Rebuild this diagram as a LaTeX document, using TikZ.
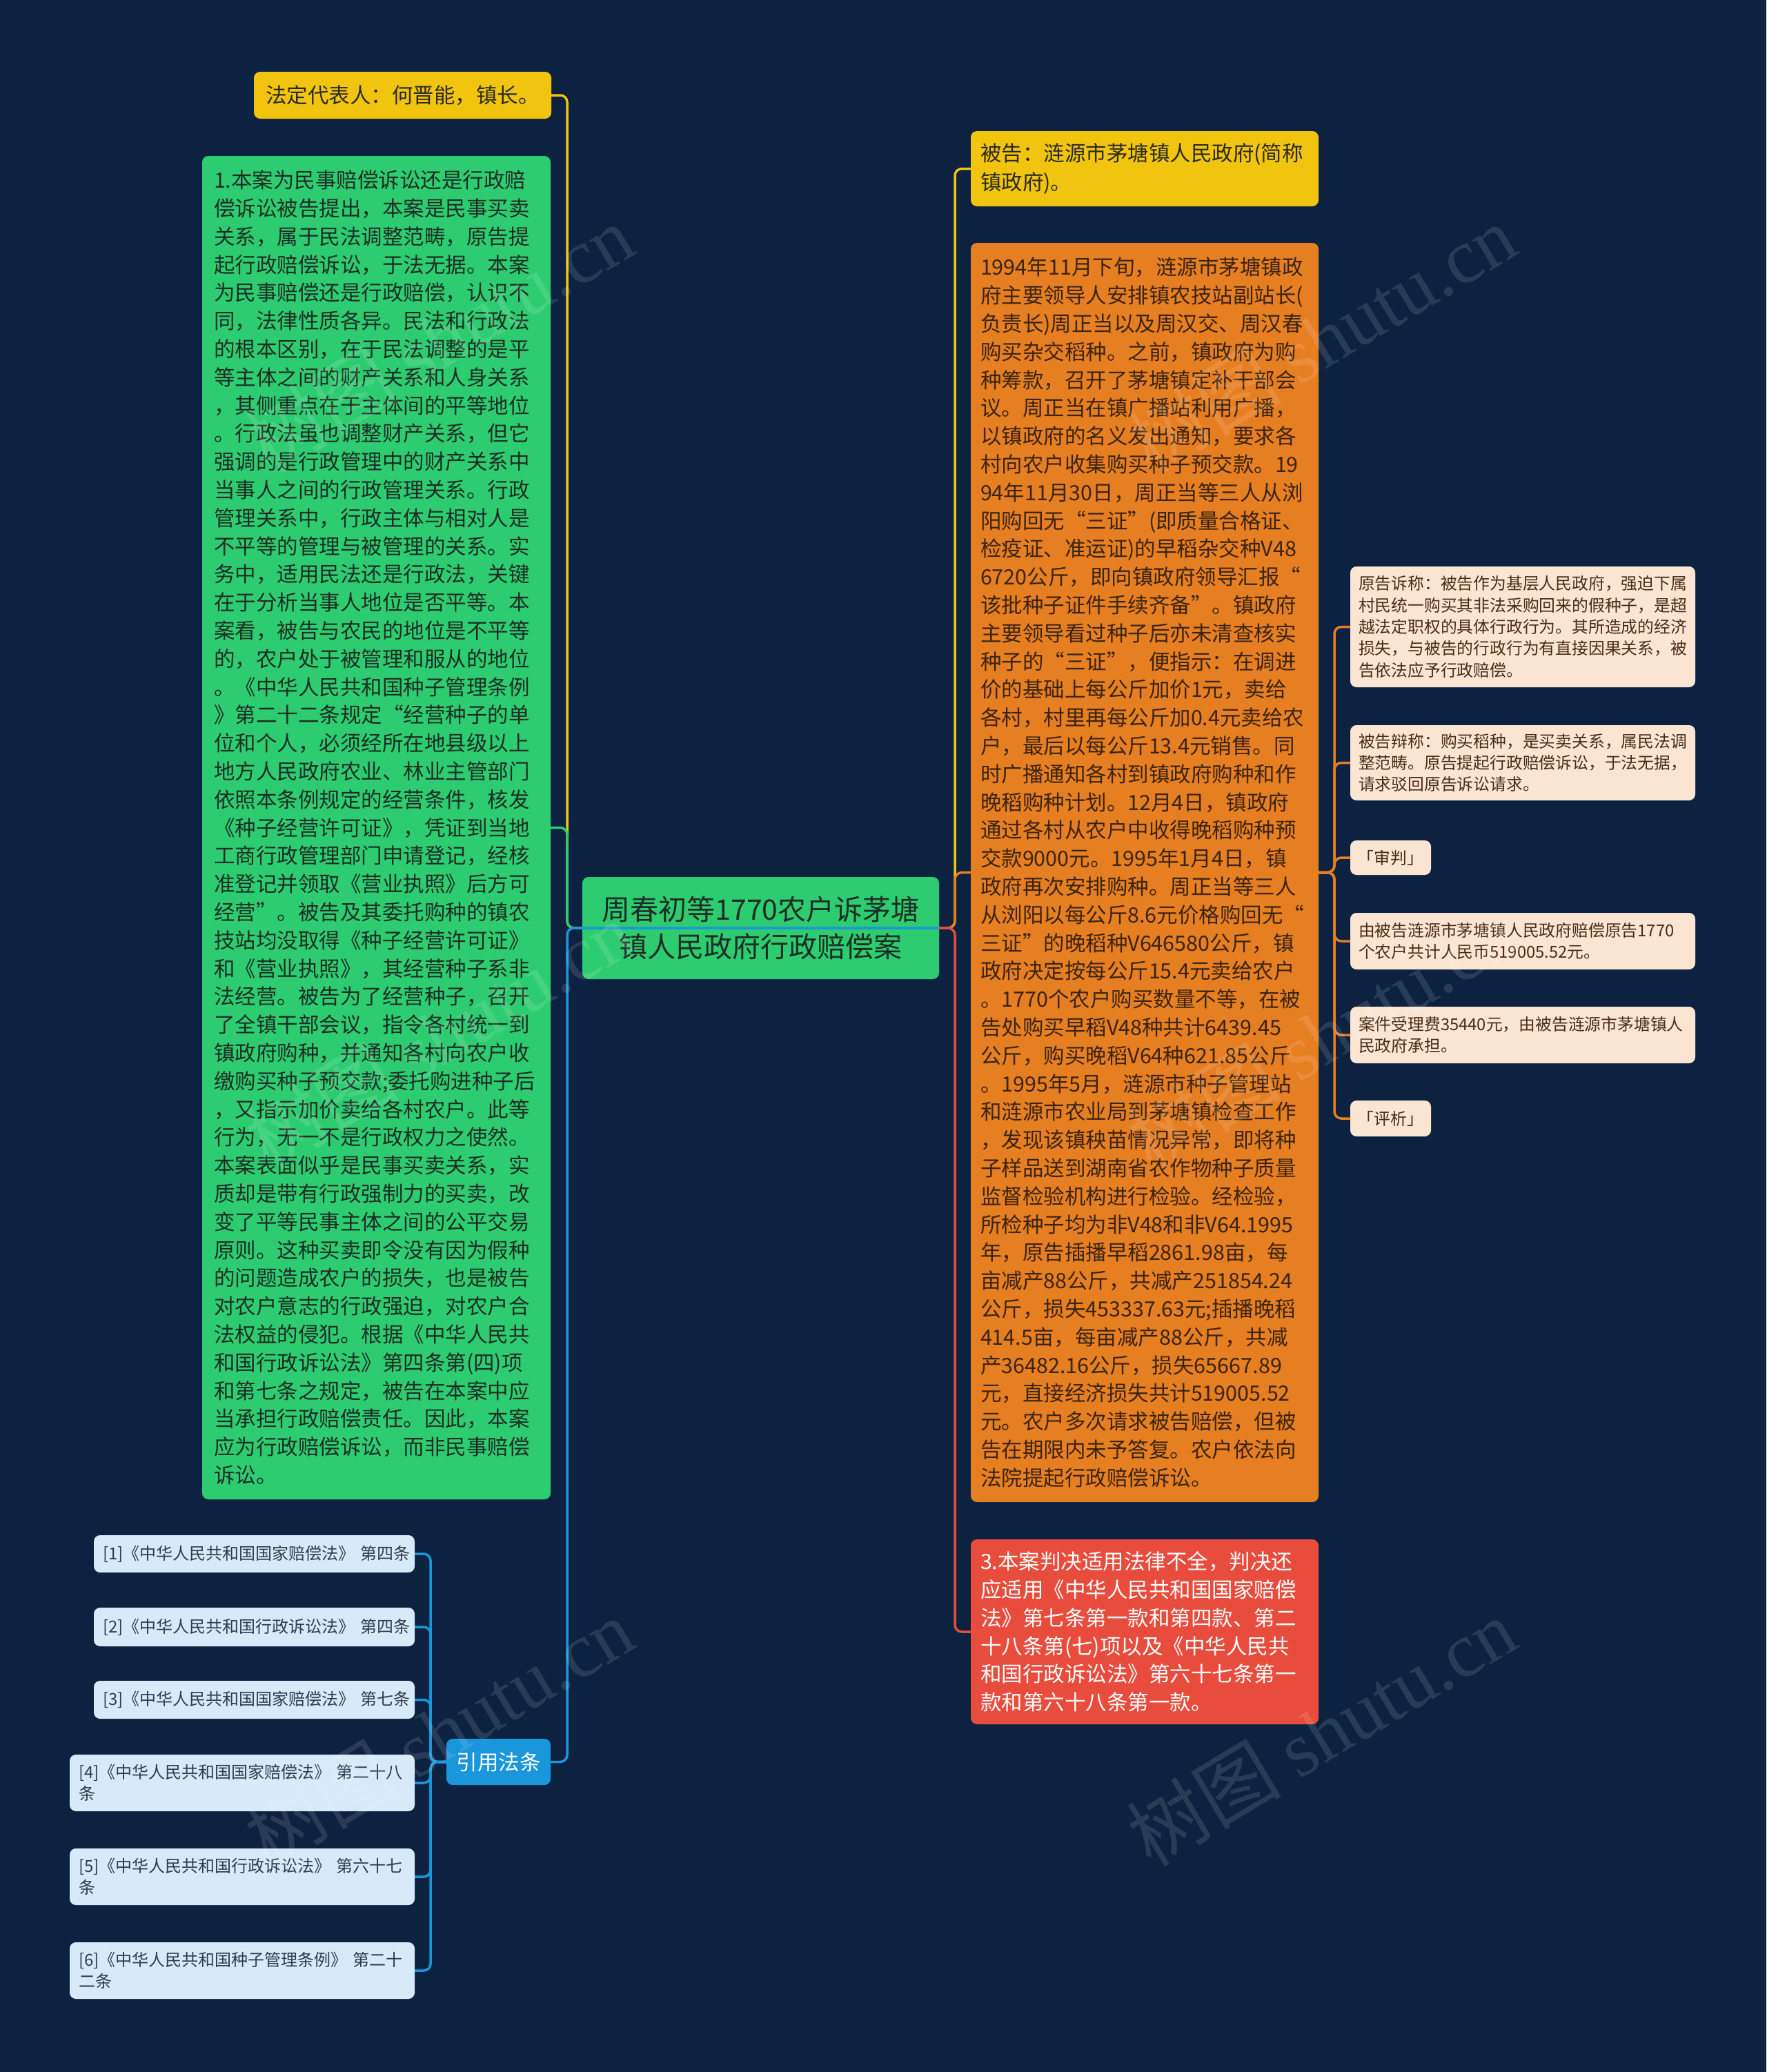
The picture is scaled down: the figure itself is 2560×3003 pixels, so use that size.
\documentclass[tikz,border=0pt]{standalone}
\usepackage{fontspec}
\setmainfont{Noto Sans CJK SC}
\newfontfamily\wmlatin{Liberation Serif}
\definecolor{bg}{HTML}{0C2240}
\definecolor{cyellow}{HTML}{F1C40F}
\definecolor{cgreen}{HTML}{2ECC71}
\definecolor{corange}{HTML}{E67E22}
\definecolor{cred}{HTML}{E74C3C}
\definecolor{ccream}{HTML}{FAE5D3}
\definecolor{clblue}{HTML}{D6EAF8}
\definecolor{cblue}{HTML}{1A96DA}
\definecolor{tdark}{HTML}{2A2A1E}
\definecolor{tgreen}{HTML}{1E2D24}
\definecolor{torange}{HTML}{3A2412}
\definecolor{tcream}{HTML}{4A2C14}
\definecolor{tblue}{HTML}{2C3E50}
\tikzset{
  nb/.style={rectangle, rounded corners=9pt, anchor=north west, align=left, inner ysep=0pt, outer sep=0pt},
  bigtxt/.style={font=\fontsize{30.5}{40.8}\selectfont},
  smalltxt/.style={font=\fontsize{23.8}{31.4}\selectfont},
  citetxt/.style={font=\fontsize{24}{31}\selectfont},
  conn/.style={line width=3.5pt, rounded corners=10pt},
  wm/.style={rotate=31, opacity=0.12, text=white, font=\fontsize{112}{112}\selectfont, inner sep=0pt}
}
\begin{document}
\begin{tikzpicture}[x=1pt,y=-1pt]
\fill[bg] (0,0) rectangle (2560,3003);
\useasboundingbox (0,0) rectangle (2560,3003);

% trunk coordinates
\coordinate (tl) at (822,0);
\coordinate (tr) at (1384,0);
\coordinate (tc) at (1934,0);
\coordinate (tq) at (624,0);

% central node
\node[nb, align=center, fill=cgreen, text=tgreen, font=\fontsize{41}{54}\selectfont,
      inner xsep=20pt, text width=477pt, minimum height=148pt] (center) at (844,1271)
  {周春初等1770农户诉茅塘\\镇人民政府行政赔偿案};

% left side
\node[nb, bigtxt, fill=cyellow, text=tdark, inner xsep=17pt, text width=397pt, minimum height=68pt] (legal) at (368,104)
  {法定代表人：何晋能，镇长。};

\node[nb, bigtxt, fill=cgreen, text=tgreen, inner xsep=17pt, text width=471pt, minimum height=1947pt] (analysis) at (293,226)
  {1.本案为民事赔偿诉讼还是行政赔\\
偿诉讼被告提出，本案是民事买卖\\
关系，属于民法调整范畴，原告提\\
起行政赔偿诉讼，于法无据。本案\\
为民事赔偿还是行政赔偿，认识不\\
同，法律性质各异。民法和行政法\\
的根本区别，在于民法调整的是平\\
等主体之间的财产关系和人身关系\\
，其侧重点在于主体间的平等地位\\
。行政法虽也调整财产关系，但它\\
强调的是行政管理中的财产关系中\\
当事人之间的行政管理关系。行政\\
管理关系中，行政主体与相对人是\\
不平等的管理与被管理的关系。实\\
务中，适用民法还是行政法，关键\\
在于分析当事人地位是否平等。本\\
案看，被告与农民的地位是不平等\\
的，农户处于被管理和服从的地位\\
。《中华人民共和国种子管理条例\\
》第二十二条规定“经营种子的单\\
位和个人，必须经所在地县级以上\\
地方人民政府农业、林业主管部门\\
依照本条例规定的经营条件，核发\\
《种子经营许可证》，凭证到当地\\
工商行政管理部门申请登记，经核\\
准登记并领取《营业执照》后方可\\
经营”。被告及其委托购种的镇农\\
技站均没取得《种子经营许可证》\\
和《营业执照》，其经营种子系非\\
法经营。被告为了经营种子，召开\\
了全镇干部会议，指令各村统一到\\
镇政府购种，并通知各村向农户收\\
缴购买种子预交款;委托购进种子后\\
，又指示加价卖给各村农户。此等\\
行为，无一不是行政权力之使然。\\
本案表面似乎是民事买卖关系，实\\
质却是带有行政强制力的买卖，改\\
变了平等民事主体之间的公平交易\\
原则。这种买卖即令没有因为假种\\
的问题造成农户的损失，也是被告\\
对农户意志的行政强迫，对农户合\\
法权益的侵犯。根据《中华人民共\\
和国行政诉讼法》第四条第(四)项\\
和第七条之规定，被告在本案中应\\
当承担行政赔偿责任。因此，本案\\
应为行政赔偿诉讼，而非民事赔偿\\
诉讼。};

\node[nb, align=center, fill=cblue, text=white, bigtxt, inner xsep=10pt, text width=131pt, minimum height=67pt] (cite) at (647,2520)
  {引用法条};

\node[nb, citetxt, fill=clblue, text=tblue, inner xsep=13pt, text width=439pt, minimum height=54pt] (c1) at (136,2225)
  {[1]《中华人民共和国国家赔偿法》~第四条};
\node[nb, citetxt, fill=clblue, text=tblue, inner xsep=13pt, text width=439pt, minimum height=56pt] (c2) at (136,2330)
  {[2]《中华人民共和国行政诉讼法》~第四条};
\node[nb, citetxt, fill=clblue, text=tblue, inner xsep=13pt, text width=439pt, minimum height=55pt] (c3) at (136,2436)
  {[3]《中华人民共和国国家赔偿法》~第七条};
\node[nb, citetxt, fill=clblue, text=tblue, inner xsep=13pt, text width=474pt, minimum height=82pt] (c4) at (101,2543)
  {[4]《中华人民共和国国家赔偿法》~第二十八\\条};
\node[nb, citetxt, fill=clblue, text=tblue, inner xsep=13pt, text width=474pt, minimum height=82pt] (c5) at (101,2679)
  {[5]《中华人民共和国行政诉讼法》~第六十七\\条};
\node[nb, citetxt, fill=clblue, text=tblue, inner xsep=13pt, text width=474pt, minimum height=82pt] (c6) at (101,2815)
  {[6]《中华人民共和国种子管理条例》~第二十\\二条};

% right side
\node[nb, bigtxt, fill=cyellow, text=tdark, font=\fontsize{30.5}{42}\selectfont, inner xsep=14pt, text width=476pt, minimum height=109pt] (def) at (1407,190)
  {被告：涟源市茅塘镇人民政府(简称\\镇政府)。};

\node[nb, bigtxt, fill=corange, text=torange, inner xsep=14pt, text width=476pt, minimum height=1825pt] (facts) at (1407,352)
  {1994年11月下旬，涟源市茅塘镇政\\
府主要领导人安排镇农技站副站长(\\
负责长)周正当以及周汉交、周汉春\\
购买杂交稻种。之前，镇政府为购\\
种筹款，召开了茅塘镇定补干部会\\
议。周正当在镇广播站利用广播，\\
以镇政府的名义发出通知，要求各\\
村向农户收集购买种子预交款。19\\
94年11月30日，周正当等三人从浏\\
阳购回无“三证”(即质量合格证、\\
检疫证、准运证)的早稻杂交种V48\\
6720公斤，即向镇政府领导汇报“\\
该批种子证件手续齐备”。镇政府\\
主要领导看过种子后亦未清查核实\\
种子的“三证”，便指示：在调进\\
价的基础上每公斤加价1元，卖给\\
各村，村里再每公斤加0.4元卖给农\\
户，最后以每公斤13.4元销售。同\\
时广播通知各村到镇政府购种和作\\
晚稻购种计划。12月4日，镇政府\\
通过各村从农户中收得晚稻购种预\\
交款9000元。1995年1月4日，镇\\
政府再次安排购种。周正当等三人\\
从浏阳以每公斤8.6元价格购回无“\\
三证”的晚稻种V646580公斤，镇\\
政府决定按每公斤15.4元卖给农户\\
。1770个农户购买数量不等，在被\\
告处购买早稻V48种共计6439.45\\
公斤，购买晚稻V64种621.85公斤\\
。1995年5月，涟源市种子管理站\\
和涟源市农业局到茅塘镇检查工作\\
，发现该镇秧苗情况异常，即将种\\
子样品送到湖南省农作物种子质量\\
监督检验机构进行检验。经检验，\\
所检种子均为非V48和非V64.1995\\
年，原告插播早稻2861.98亩，每\\
亩减产88公斤，共减产251854.24\\
公斤，损失453337.63元;插播晚稻\\
414.5亩，每亩减产88公斤，共减\\
产36482.16公斤，损失65667.89\\
元，直接经济损失共计519005.52\\
元。农户多次请求被告赔偿，但被\\
告在期限内未予答复。农户依法向\\
法院提起行政赔偿诉讼。};

\node[nb, bigtxt, fill=cred, text=white, inner xsep=14pt, text width=476pt, minimum height=268pt] (comment) at (1407,2231)
  {3.本案判决适用法律不全，判决还\\
应适用《中华人民共和国国家赔偿\\
法》第七条第一款和第四款、第二\\
十八条第(七)项以及《中华人民共\\
和国行政诉讼法》第六十七条第一\\
款和第六十八条第一款。};

\node[nb, smalltxt, fill=ccream, text=tcream, inner xsep=12pt, text width=476pt, minimum height=175pt] (claim) at (1957,821)
  {原告诉称：被告作为基层人民政府，强迫下属\\
村民统一购买其非法采购回来的假种子，是超\\
越法定职权的具体行政行为。其所造成的经济\\
损失，与被告的行政行为有直接因果关系，被\\
告依法应予行政赔偿。};
\node[nb, smalltxt, fill=ccream, text=tcream, inner xsep=12pt, text width=476pt, minimum height=109pt] (defense) at (1957,1051)
  {被告辩称：购买稻种，是买卖关系，属民法调\\
整范畴。原告提起行政赔偿诉讼，于法无据，\\
请求驳回原告诉讼请求。};
\node[nb, smalltxt, align=center, fill=ccream, text=tcream, inner xsep=6pt, text width=105pt, minimum height=50pt] (trial) at (1957,1218)
  {「审判」};
\node[nb, smalltxt, fill=ccream, text=tcream, inner xsep=12pt, text width=476pt, minimum height=82pt] (ruling) at (1957,1323)
  {由被告涟源市茅塘镇人民政府赔偿原告1770\\
个农户共计人民币519005.52元。};
\node[nb, smalltxt, fill=ccream, text=tcream, inner xsep=12pt, text width=476pt, minimum height=82pt] (fee) at (1957,1459)
  {案件受理费35440元，由被告涟源市茅塘镇人\\
民政府承担。};
\node[nb, smalltxt, align=center, fill=ccream, text=tcream, inner xsep=6pt, text width=105pt, minimum height=52pt] (review) at (1957,1595)
  {「评析」};

% connectors: left
\draw[conn, cyellow] (center.west) -| (tl |- legal.east) -- (legal.east);
\draw[conn, cgreen] (center.west) -| (tl |- analysis.east) -- (analysis.east);
\draw[conn, cblue] (center.east) -- (center.west) -| (tl |- cite.east) -- (cite.east);
% connectors: right
\draw[conn, cyellow] (center.east) -| (tr |- def.west) -- (def.west);
\draw[conn, corange] (center.east) -| (tr |- facts.west) -- (facts.west);
\draw[conn, cred] (center.east) -| (tr |- comment.west) -- (comment.west);
% connectors: facts children
\foreach \n in {claim, defense, trial, ruling, fee, review}
  \draw[conn, corange] (facts.east) -| (tc |- \n.west) -- (\n.west);
% connectors: citations
\foreach \n in {c1, c2, c3, c4, c5, c6}
  \draw[conn, cblue] (cite.west) -| (tq |- \n.east) -- (\n.east);

% watermarks
\foreach \p in {(636,490), (1915,490), (636,1500), (1915,1500), (636,2510), (1915,2510)}
  \node[wm] at \p {树图 {\wmlatin shutu.cn}};
\end{tikzpicture}
\end{document}
